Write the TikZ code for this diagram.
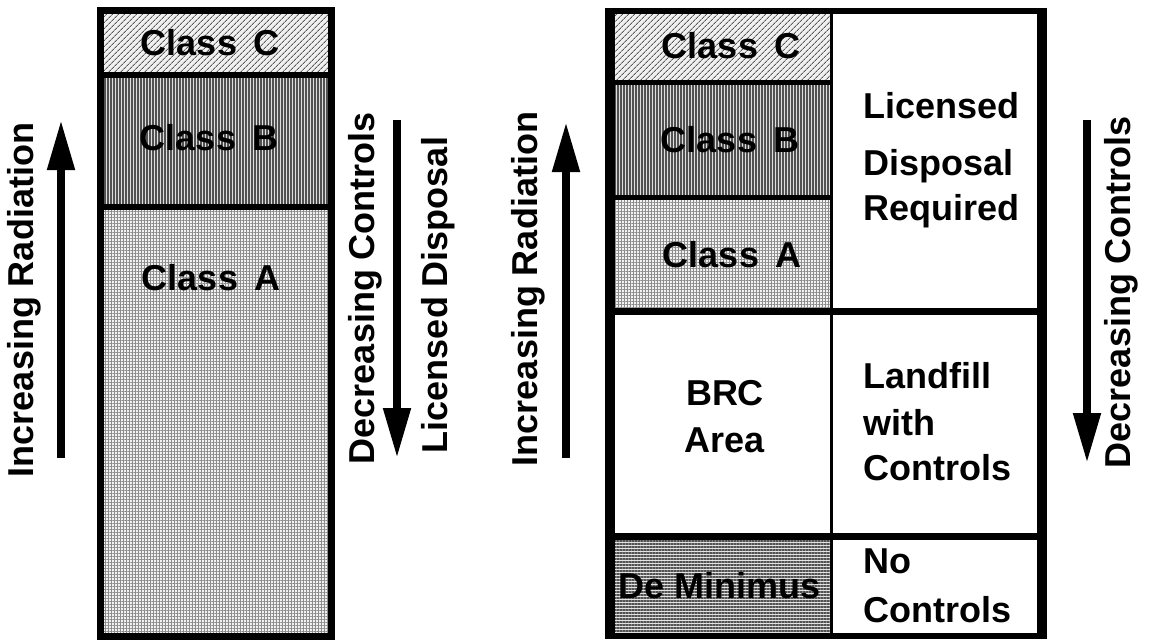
\documentclass[tikz,border=0pt]{standalone}
\usepackage{fontspec}
\setmainfont{Liberation Sans}
\usetikzlibrary{patterns.meta,arrows.meta}
\begin{document}
\begin{tikzpicture}[x=1pt,y=-1pt,
  lbl/.style={font=\fontsize{36}{36}\selectfont\bfseries, inner sep=0pt},
  ctr/.style={lbl, anchor=base},
  lft/.style={lbl, anchor=base west},
  rot/.style={lbl, rotate=90, anchor=base},
  bigarrow/.style={line width=8pt, -{Triangle[length=50pt,width=26pt]}},
  pC/.style={pattern={Lines[angle=45,distance=4pt,line width=0.9pt]}, pattern color=black!65},
  pB/.style={pattern={Lines[angle=90,distance=3pt,line width=1.15pt]}, pattern color=black!68},
  pA/.style={pattern={Hatch[angle=0,distance=3pt,line width=0.5pt]}, pattern color=black!45},
  pD/.style={pattern={Lines[angle=0,distance=3pt,line width=1.05pt]}, pattern color=black!68},
  thick line/.style={line width=6pt},
]
\useasboundingbox (0,0) rectangle (1152,640);
\fill[white] (0,0) rectangle (1152,640);

% ---------------- left box ----------------
\fill[gray!12] (100,10) rectangle (331,75);
\path[pC] (100,10) rectangle (331,75);
\fill[gray!25] (100,75) rectangle (331,207);
\path[pB] (100,75) rectangle (331,207);
\fill[gray!10] (100,207) rectangle (331,636);
\path[pA] (100,207) rectangle (331,636);
\draw[thick line] (100,75) -- (331,75);
\draw[thick line] (100,207) -- (331,207);
\draw[line width=7pt] (100,10) rectangle (331,636);

\node[ctr] (lC) at (210,55) {Class\, C};
\node[ctr] (lB) at (209,150) {Class\, B};
\node[ctr] (lA) at (211,290) {Class\, A};

% left arrows and labels
\coordinate (ia1) at (61,458);
\coordinate (ia2) at (61,120);
\draw[bigarrow] (ia1) -- (ia2);
\node[rot] (ir1) at (33,300) {Increasing Radiation};

\coordinate (dc1) at (397,120);
\coordinate (dc2) at (397,458);
\draw[bigarrow] (dc1) -- (dc2);
\node[rot] (dl1) at (374,288) {Decreasing Controls};
\node[rot] (ld1) at (447,295) {Licensed Disposal};

% ---------------- right box ----------------
\fill[gray!12] (610,10) rectangle (831,82);
\path[pC] (610,10) rectangle (831,82);
\fill[gray!25] (610,82) rectangle (831,197);
\path[pB] (610,82) rectangle (831,197);
\fill[gray!10] (610,197) rectangle (831,311);
\path[pA] (610,197) rectangle (831,311);
\fill[gray!22] (610,536) rectangle (831,635);
\path[pD] (610,536) rectangle (831,635);

\draw[line width=5pt] (610,82) -- (831,82);
\draw[line width=5pt] (610,197) -- (831,197);
\draw[line width=3pt] (831,10) -- (831,635);
\draw[line width=7pt] (610,311) -- (1042,311);
\draw[line width=7pt] (610,536) -- (1042,536);
\draw[line width=6pt] (605,10.5) -- (1047,10.5);
\draw[line width=6pt] (605,635.5) -- (1047,635.5);
\draw[line width=10pt] (610,7.5) -- (610,638.5);
\draw[line width=10pt] (1042,7.5) -- (1042,638.5);

\node[ctr] (rC) at (731,58) {Class\, C};
\node[ctr] (rB) at (730,152) {Class\, B};
\node[ctr] (rA) at (732,267) {Class\, A};
\node[ctr] (brc) at (725,405) {BRC};
\node[ctr] (area) at (725,452) {Area};
\node[ctr] (dem) at (720,598) {De Minimus};

\node[lft] (lic) at (863,118) {Licensed};
\node[lft] (dis) at (863,175) {Disposal};
\node[lft] (req) at (863,220) {Required};
\node[lft] (land) at (863,388) {Landfill};
\node[lft] (with) at (863,435) {with};
\node[lft] (con) at (863,480) {Controls};
\node[lft] (no) at (863,573) {No};
\node[lft] (con2) at (863,622) {Controls};

% right-box arrows
\coordinate (ib1) at (566,458);
\coordinate (ib2) at (566,122);
\draw[bigarrow] (ib1) -- (ib2);
\node[rot] (ir2) at (537,289) {Increasing Radiation};

\coordinate (dd1) at (1087,120);
\coordinate (dd2) at (1087,463);
\draw[bigarrow] (dd1) -- (dd2);
\node[rot] (dl2) at (1130,292) {Decreasing Controls};
\end{tikzpicture}
\end{document}
